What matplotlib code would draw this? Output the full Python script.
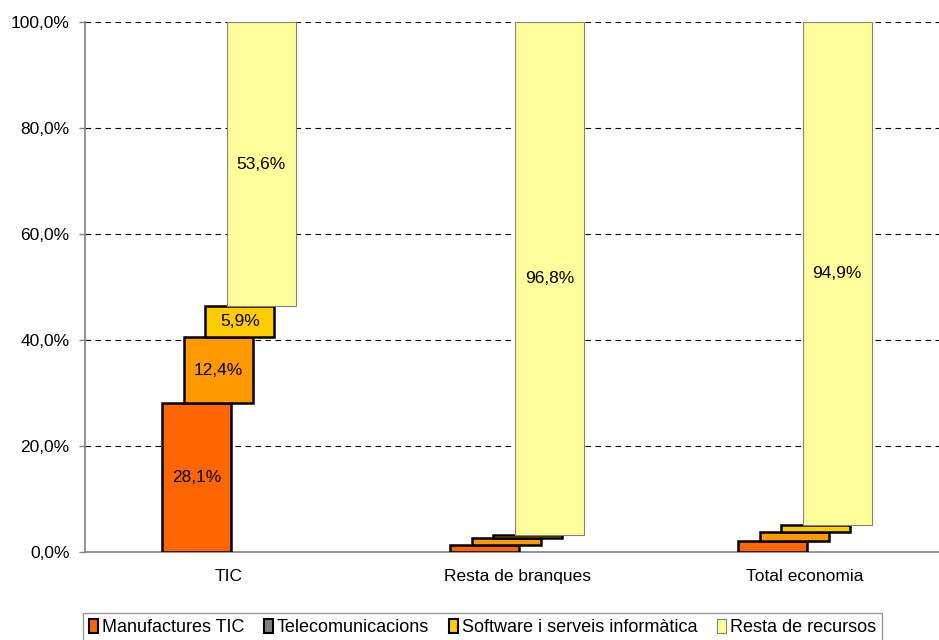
import matplotlib
matplotlib.use("Agg")
import matplotlib.pyplot as plt
from matplotlib.patches import Patch
import numpy as np

plt.rcParams['font.family'] = ['Liberation Sans', 'DejaVu Sans']

categories = ["TIC", "Resta de branques", "Total economia"]
series_names = ["Manufactures TIC", "Telecomunicacions",
                "Software i serveis informàtica", "Resta de recursos"]
manufactures = [28.1, 1.4, 2.1]
telecom = [12.4, 1.3, 1.7]
software = [5.9, 0.5, 1.3]
resta = [53.6, 96.8, 94.9]
yticks = [0, 20, 40, 60, 80, 100]

values = [manufactures, telecom, software, resta]
fills = ["#FF6600", "#FF9900", "#FFCC00", "#FFFF99"]
edges = ["black", "black", "black", "#808080"]
edge_w = [1.8, 1.8, 1.8, 0.8]
legend_fills = ["#FF6600", "#808080", "#FFCC00", "#FFFF99"]

def pct(v):
    return f"{v:.1f}".replace(".", ",") + "%"

fig = plt.figure(figsize=(9.39, 6.40), dpi=100)
ax = fig.add_axes([85 / 939, 88 / 640, 864 / 939, 530 / 640])

x = np.arange(len(categories))
width = 0.24
step = 0.0747
bottoms = np.zeros(len(categories))
for i, vals in enumerate(values):
    vals = np.array(vals)
    xpos = x + (i - 1.5) * step
    ax.bar(xpos, vals, width=width, bottom=bottoms, color=fills[i],
           edgecolor=edges[i], linewidth=edge_w[i], zorder=3)
    for j, v in enumerate(vals):
        if j == 0 or i == 3:
            ax.text(xpos[j], bottoms[j] + v / 2, pct(v), ha="center",
                    va="center", fontsize=12.5, zorder=4)
    bottoms += vals

ax.set_xlim(-0.5, 2.5)
ax.set_ylim(0, 100)
ax.set_yticks(yticks)
ax.set_yticklabels([pct(v) for v in yticks], fontsize=12.5)
ax.set_xticks(x)
ax.set_xticklabels(categories, fontsize=12.5)
ax.tick_params(axis="x", length=0, pad=12)
ax.tick_params(axis="y", length=4, width=1, color="#808080", pad=7)

ax.yaxis.grid(True, linestyle=(0, (5, 4)), color="black", linewidth=0.8, zorder=0)
ax.set_axisbelow(True)
for s in ["top", "right"]:
    ax.spines[s].set_visible(False)
for s in ["left", "bottom"]:
    ax.spines[s].set_color("#808080")
    ax.spines[s].set_linewidth(1.2)

handles = [Patch(facecolor=legend_fills[i],
                 edgecolor="black" if i < 3 else "#808080",
                 linewidth=1.5 if i < 3 else 0.8)
           for i in range(4)]
leg = fig.legend(handles, series_names, loc="upper left",
                 bbox_to_anchor=(83 / 939, 1 - 613 / 640), ncol=4,
                 fontsize=13, frameon=True, fancybox=False,
                 handlelength=0.5, handleheight=0.8, handletextpad=0.2,
                 columnspacing=1.1, borderpad=0.35, borderaxespad=0)
leg.get_frame().set_edgecolor("#808080")
leg.get_frame().set_linewidth(1.0)

fig.savefig("out.png", dpi=100)
